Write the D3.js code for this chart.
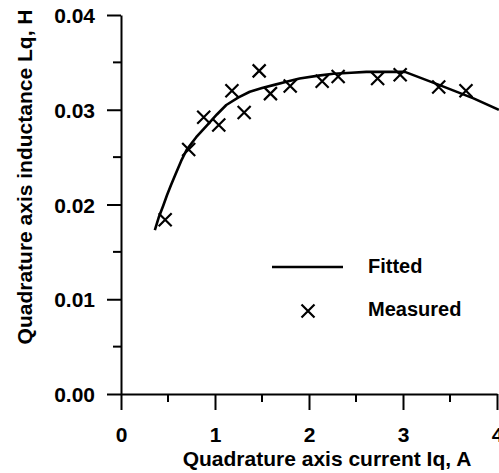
<!DOCTYPE html>
<html>
<head>
<meta charset="utf-8">
<script src="https://cdn.jsdelivr.net/npm/d3@7"></script>
<style>
  body { margin: 0; background: #fff; }
  svg text { font-family: "Liberation Sans", Arial, sans-serif; font-weight: bold; fill: #000; }
</style>
</head>
<body>
<div id="chart"></div>
<script>
var width = 499;
var height = 473;

// measured points (Iq in A, Lq in H)
var measuredIq = [0.47, 0.72, 0.88, 1.04, 1.18, 1.31, 1.47, 1.59, 1.80, 2.14, 2.31, 2.73, 2.97, 3.38, 3.67];
var measuredLq = [0.0184, 0.0258, 0.0292, 0.0284, 0.0320, 0.0297, 0.0341, 0.0317, 0.0325, 0.0330, 0.0335, 0.0333, 0.0337, 0.0324, 0.0320];

// fitted curve
var fittedIq = [0.36, 0.40, 0.45, 0.49, 0.53, 0.58, 0.64, 0.70, 0.80, 0.91, 1.02, 1.12, 1.25, 1.37, 1.50, 1.62, 1.78, 1.90, 2.10, 2.26, 2.45, 2.61, 2.80, 3.02, 3.39, 3.75, 4.02];
var fittedLq = [0.0173, 0.0186, 0.0199, 0.0210, 0.0220, 0.0232, 0.0246, 0.0258, 0.0271, 0.0283, 0.0295, 0.0305, 0.0313, 0.0319, 0.0323, 0.0326, 0.0330, 0.0333, 0.0336, 0.0338, 0.0339, 0.0340, 0.0340, 0.0340, 0.0326, 0.0312, 0.0300];

var xTicks = [0, 1, 2, 3, 4];
var yTicks = [0.00, 0.01, 0.02, 0.03, 0.04];
var xMinor = [0.5, 1.5, 2.5, 3.5];
var yMinor = [0.005, 0.015, 0.025, 0.035];

var svg = d3
  .select("#chart")
  .append("svg")
  .attr("width", width)
  .attr("height", height);

var x = d3.scaleLinear().domain([0, 4]).range([121, 497]);
var y = d3.scaleLinear().domain([0, 0.04]).range([394, 15]);

// axes
var xAxis = d3.axisBottom(x).tickValues(xTicks).tickSize(16).tickSizeOuter(0).tickPadding(17).tickFormat(d3.format("d"));
var yAxis = d3.axisLeft(y).tickValues(yTicks).tickSize(14).tickSizeOuter(0).tickPadding(12).tickFormat(d3.format(".2f"));

var gx = svg.append("g").attr("transform", "translate(0," + y(0) + ")").call(xAxis);
var gy = svg.append("g").attr("transform", "translate(" + x(0) + ",0)").call(yAxis);

[gx, gy].forEach(function (g) {
  g.select(".domain").attr("stroke", "#000").attr("stroke-width", 2);
  g.selectAll(".tick line").attr("stroke", "#000").attr("stroke-width", 2);
  g.selectAll(".tick text").attr("font-size", 21).attr("fill", "#000");
});
gy.selectAll(".tick text").attr("dy", "0.36em");

// minor ticks
gx.selectAll(".minor")
  .data(xMinor)
  .enter()
  .append("line")
  .attr("x1", function (d) { return x(d); })
  .attr("x2", function (d) { return x(d); })
  .attr("y1", 0)
  .attr("y2", 8)
  .attr("stroke", "#000")
  .attr("stroke-width", 2);

gy.selectAll(".minor")
  .data(yMinor)
  .enter()
  .append("line")
  .attr("y1", function (d) { return y(d); })
  .attr("y2", function (d) { return y(d); })
  .attr("x1", 0)
  .attr("x2", -8)
  .attr("stroke", "#000")
  .attr("stroke-width", 2);

// axis titles
svg.append("text")
  .attr("x", 327)
  .attr("y", 466)
  .attr("text-anchor", "middle")
  .attr("font-size", 21)
  .text("Quadrature axis current Iq, A");

svg.append("text")
  .attr("transform", "translate(32,177) rotate(-90)")
  .attr("text-anchor", "middle")
  .attr("font-size", 21)
  .text("Quadrature axis inductance Lq, H");

// fitted line
var fitted = fittedIq.map(function (d, i) { return [d, fittedLq[i]]; });
var line = d3.line()
  .x(function (d) { return x(d[0]); })
  .y(function (d) { return y(d[1]); });

svg.append("path")
  .datum(fitted)
  .attr("d", line)
  .attr("fill", "none")
  .attr("stroke", "#000")
  .attr("stroke-width", 2.6)
  .attr("stroke-linejoin", "round");

// measured crosses
var cross = "M-6.5,-6.5L6.5,6.5M-6.5,6.5L6.5,-6.5";
var measured = measuredIq.map(function (d, i) { return [d, measuredLq[i]]; });
svg.selectAll(".pt")
  .data(measured)
  .enter()
  .append("path")
  .attr("class", "pt")
  .attr("transform", function (d) { return "translate(" + x(d[0]) + "," + y(d[1]) + ")"; })
  .attr("d", cross)
  .attr("fill", "none")
  .attr("stroke", "#000")
  .attr("stroke-width", 2.2);

// legend
var legend = svg.append("g");
legend.append("line")
  .attr("x1", 272).attr("x2", 343)
  .attr("y1", 267).attr("y2", 267)
  .attr("stroke", "#000")
  .attr("stroke-width", 2.6);
legend.append("text")
  .attr("x", 368).attr("y", 273)
  .attr("font-size", 20)
  .text("Fitted");
legend.append("path")
  .attr("transform", "translate(308,311)")
  .attr("d", cross)
  .attr("fill", "none")
  .attr("stroke", "#000")
  .attr("stroke-width", 2.2);
legend.append("text")
  .attr("x", 368).attr("y", 316)
  .attr("font-size", 20)
  .text("Measured");
</script>
</body>
</html>
